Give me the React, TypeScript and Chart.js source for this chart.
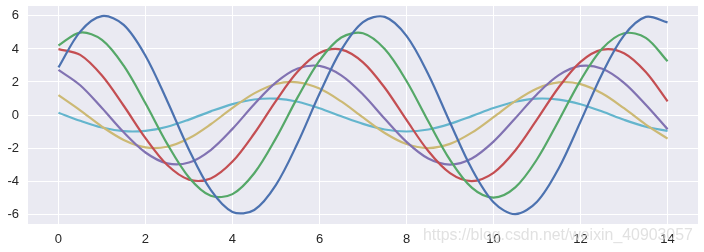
import React, { useEffect, useRef } from "react";
import { Chart, registerables } from "chart.js";

Chart.register(...registerables);

const xValues = [0, 0.5, 1, 1.5, 2, 2.5, 3, 3.5, 4, 4.5, 5, 5.5, 6, 6.5, 7, 7.5, 8, 8.5, 9, 9.5, 10, 10.5, 11, 11.5, 12, 12.5, 13, 13.5, 14];

const blue = [2.88, 5.05, 5.99, 5.46, 3.59, 0.85, -2.10, -4.54, -5.87, -5.75, -4.23, -1.68, 1.29, 3.94, 5.63, 5.94, 4.79, 2.47, -0.45, -3.26, -5.28, -6.00, -5.25, -3.22, -0.40, 2.52, 4.82, 5.94, 5.61];
const green = [4.21, 4.99, 4.55, 2.99, 0.71, -1.75, -3.78, -4.89, -4.79, -3.53, -1.40, 1.08, 3.29, 4.69, 4.95, 3.99, 2.06, -0.38, -2.72, -4.40, -5.00, -4.38, -2.68, -0.33, 2.10, 4.02, 4.95, 4.67, 3.25];
const red = [3.99, 3.64, 2.39, 0.56, -1.40, -3.03, -3.91, -3.84, -2.82, -1.12, 0.86, 2.63, 3.75, 3.96, 3.19, 1.65, -0.30, -2.18, -3.52, -4.00, -3.50, -2.15, -0.27, 1.68, 3.22, 3.96, 3.74, 2.60, 0.83];
const purple = [2.73, 1.80, 0.42, -1.05, -2.27, -2.93, -2.88, -2.12, -0.84, 0.65, 1.97, 2.81, 2.97, 2.40, 1.24, -0.23, -1.63, -2.64, -3.00, -2.63, -1.61, -0.20, 1.26, 2.41, 2.97, 2.80, 1.95, 0.62, -0.86];
const yellow = [1.20, 0.28, -0.70, -1.51, -1.96, -1.92, -1.41, -0.56, 0.43, 1.31, 1.88, 1.98, 1.60, 0.82, -0.15, -1.09, -1.76, -2.00, -1.75, -1.07, -0.13, 0.84, 1.61, 1.98, 1.87, 1.30, 0.41, -0.58, -1.43];
const cyan = [0.14, -0.35, -0.76, -0.98, -0.96, -0.71, -0.28, 0.22, 0.66, 0.94, 0.99, 0.80, 0.41, -0.08, -0.54, -0.88, -1.00, -0.88, -0.54, -0.07, 0.42, 0.80, 0.99, 0.93, 0.65, 0.21, -0.29, -0.71, -0.96];

const xTicks = [0, 2, 4, 6, 8, 10, 12, 14];
const yTicks = [-6, -4, -2, 0, 2, 4, 6];

const seriesList = [blue, green, red, purple, yellow, cyan];
const colors = ["#4C72B0", "#55A868", "#C44E52", "#8172B2", "#CCB974", "#64B5CD"];
const watermark = "https://blog.csdn.net/weixin_40903057";

export default function App() {
  const ref = useRef<HTMLCanvasElement>(null);

  useEffect(() => {
    document.body.style.margin = "0";
    const canvas = ref.current!;
    const bgPlugin = {
      id: "bg",
      beforeDraw(chart: any) {
        const { ctx, chartArea } = chart;
        ctx.save();
        ctx.fillStyle = "#EAEAF2";
        ctx.fillRect(chartArea.left, chartArea.top, chartArea.right - chartArea.left, chartArea.bottom - chartArea.top);
        ctx.restore();
      },
      afterDraw(chart: any) {
        const { ctx } = chart;
        ctx.save();
        let size = 17;
        ctx.font = `${size}px "Liberation Sans", Arial, sans-serif`;
        const w = ctx.measureText(watermark).width;
        size = size * 270 / w;
        ctx.font = `${size}px "Liberation Sans", Arial, sans-serif`;
        ctx.fillStyle = "rgba(215,215,215,0.75)";
        ctx.textBaseline = "alphabetic";
        ctx.fillText(watermark, 423, 240);
        ctx.restore();
      },
    };
    const tickFont = { family: '"Liberation Sans", Arial, sans-serif', size: 13 };
    const chart = new Chart(canvas, {
      type: "line",
      data: {
        datasets: seriesList.map((s, i) => ({
          data: s.map((y, j) => ({ x: xValues[j], y })),
          borderColor: colors[i],
          borderWidth: 2.2,
          pointRadius: 0,
          tension: 0.33,
          fill: false,
        })),
      },
      options: {
        animation: false,
        responsive: false,
        maintainAspectRatio: false,
        layout: { padding: { top: 6, right: 6, left: 0, bottom: 0 } },
        plugins: { legend: { display: false }, tooltip: { enabled: false } },
        scales: {
          x: {
            type: "linear",
            min: -0.7,
            max: 14.7,
            afterBuildTicks: (scale: any) => {
              scale.ticks = xTicks.map((v) => ({ value: v }));
            },
            afterFit: (scale: any) => {
              scale.height = 28;
              scale.paddingLeft = 0;
              scale.paddingRight = 0;
              scale.paddingTop = 0;
              scale.paddingBottom = 0;
            },
            grid: { color: "#ffffff", lineWidth: 1, drawTicks: false },
            border: { display: false },
            ticks: { padding: 8, color: "#262626", font: tickFont },
          },
          y: {
            type: "linear",
            min: -6.6,
            max: 6.6,
            afterBuildTicks: (scale: any) => {
              scale.ticks = yTicks.map((v) => ({ value: v }));
            },
            afterFit: (scale: any) => {
              scale.width = 28;
              scale.paddingLeft = 0;
              scale.paddingRight = 0;
              scale.paddingTop = 0;
              scale.paddingBottom = 0;
            },
            grid: { color: "#ffffff", lineWidth: 1, drawTicks: false },
            border: { display: false },
            ticks: { padding: 9, color: "#262626", font: tickFont },
          },
        },
      },
      plugins: [bgPlugin],
    } as any);
    return () => chart.destroy();
  }, []);

  return (
    <div style={{ width: 704, height: 252, background: "#ffffff" }}>
      <canvas ref={ref} width={704} height={252} style={{ display: "block", width: 704, height: 252 }} />
    </div>
  );
}
